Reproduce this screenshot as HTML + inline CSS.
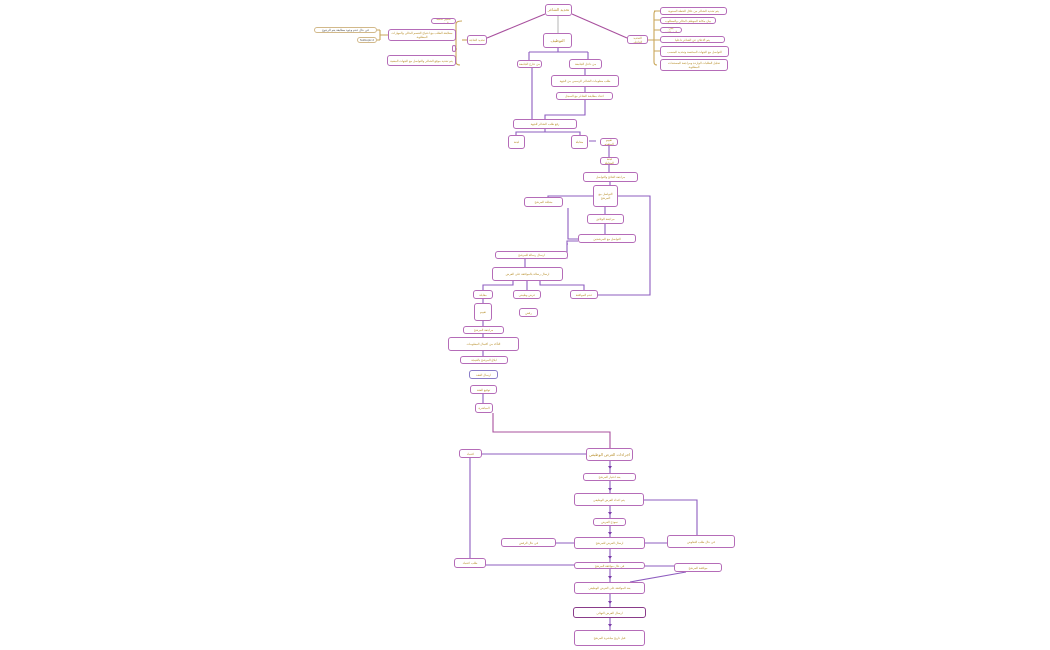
<!DOCTYPE html>
<html><head><meta charset="utf-8">
<style>
html,body{margin:0;padding:0;background:#fff;width:1050px;height:650px;overflow:hidden}
.b{position:absolute;box-sizing:border-box;border:1.4px solid #b56cb8;border-radius:3px;background:#fff;color:#b8902e;font-family:"Liberation Sans","Noto Sans CJK SC",sans-serif;font-size:3px;line-height:4px;text-align:center;display:flex;align-items:center;justify-content:center;overflow:hidden;direction:rtl;padding:0 1px}
.big{font-size:4px;border-width:1.6px;white-space:nowrap}
.tan{border-color:#d2b98a;color:#555}
.blue{border-color:#8a7cc8}
.dark{border-color:#8a3c8a}
svg{position:absolute;left:0;top:0}
</style></head><body>
<svg width="1050" height="650" fill="none" stroke="#8e5cbf" stroke-width="1.1">
<line x1="558" y1="16" x2="558" y2="33" stroke="#bbb"/>
<line x1="545" y1="14" x2="487" y2="38" stroke="#a8509e"/>
<line x1="572" y1="14" x2="627" y2="38" stroke="#a8509e"/>
<path d="M467 40 H462" stroke="#c9a65a"/>
<path d="M462 21 Q456 21 456 24 V62 Q456 65 460 65 M456 35 H452 M456 49 H457" stroke="#c9a65a"/>
<path d="M388 35 H380 M380 30 V40 M380 30 H377 M380 40 H377" stroke="#c9a65a"/>
<path d="M648 40 H654 M656 11 Q654 11 654 14 V62 Q654 65 657 65 M654 20 H660 M654 30 H660 M654 40 H660 M654 51 H660 M654 11 H660" stroke="#c9a65a"/>
<path d="M558 48 V52 M529 52 H588 M529 52 V60 M588 52 V59 M585 69 V75 M585 87 V92"/>
<path d="M532 68 V119 M585 100 V115 H545 V119"/>
<path d="M545 129 V132 H516 V135 M545 132 H580 V135 M589 141 H596"/>
<path d="M609 146 V157 M609 165 V172 M610 182 V185 M605 207 V214 M605 224 V234"/>
<path d="M593 196 H548 V197 M578 239 H568 V208 M568 244 H567 M578 241 H567 V258 H560"/>
<path d="M618 196 H650 V295 H598"/>
<path d="M525 259 V267 M513 281 V285 H483 V290 M527 281 V290 M540 281 V285 H584 V290"/>
<path d="M483 299 V303 M527 317 V308 M483 321 V326 M483 334 V337 M483 351 V356 M483 394 V403"/>
<path d="M493 413 V432 H610 V448" stroke="#a8509e"/>
<path d="M610 461 V473 M610 481 V493 M610 506 V518 M610 526 V537 M610 549 V562 M610 569 V582 M610 594 V607 M610 618 V630"/>
<path d="M586 454 H482 M470 458 V558"/>
<path d="M574 543 H556 M645 543 H667 M697 535 V500 H644"/>
<path d="M574 565 H486 M645 566 H674 M686 572 L630 582"/>
<g fill="#7a3ca8" stroke="none">
<path d="M608 466 l2 3 2-3z M608 488 l2 3 2-3z M608 512 l2 3 2-3z M608 532 l2 3 2-3z M608 556 l2 3 2-3z M608 576 l2 3 2-3z M608 601 l2 3 2-3z M608 624 l2 3 2-3z"/>
</g>
</svg>
<div class="b big" style="left:545px;top:4px;width:27px;height:12px">تحديد الشاغر</div>
<div class="b big" style="left:543px;top:33px;width:29px;height:15px">التوظيف</div>
<div class="b" style="left:467px;top:35px;width:20px;height:10px">تحديد الحاجة</div>
<div class="b" style="left:627px;top:35px;width:21px;height:9px">التحديد الداخلي</div>
<div class="b" style="left:431px;top:18px;width:25px;height:6px">تحليل قائمة المنصب</div>
<div class="b" style="left:388px;top:29px;width:68px;height:12px">مطابقة الطلب مع احتياج القسم الحالي والمهارات المطلوبة</div>
<div class="b" style="left:452px;top:45px;width:4px;height:7px"></div>
<div class="b" style="left:387px;top:55px;width:69px;height:11px">يتم تحديد موقع الشاغر والتواصل مع الجهات المعنية</div>
<div class="b tan" style="left:314px;top:27px;width:63px;height:6px">في حال عدم وجود مطابقة يتم الرجوع</div>
<div class="b tan" style="left:357px;top:37px;width:20px;height:6px">Subtopic 2</div>
<div class="b" style="left:660px;top:7px;width:67px;height:8px">يتم تحديد الشاغر من خلال الخطة السنوية</div>
<div class="b" style="left:660px;top:17px;width:56px;height:7px">بيان مكانة الموظف الحالي والمطلوب</div>
<div class="b" style="left:660px;top:27px;width:22px;height:6px">بيان المتطلبات</div>
<div class="b" style="left:660px;top:36px;width:65px;height:7px">يتم الاعلان عن الشاغر داخليا</div>
<div class="b" style="left:660px;top:46px;width:69px;height:11px">التواصل مع الجهات المختصة وتحديد المنصب</div>
<div class="b" style="left:660px;top:59px;width:68px;height:12px">تحليل الطلبات الواردة ومراجعة المستندات المطلوبة</div>
<div class="b" style="left:517px;top:60px;width:25px;height:8px">من خارج الجامعة</div>
<div class="b" style="left:569px;top:59px;width:33px;height:10px">من داخل الجامعة</div>
<div class="b" style="left:551px;top:75px;width:68px;height:12px">طلب معلومات الشاغر الرسمي من الجهة</div>
<div class="b" style="left:556px;top:92px;width:57px;height:8px">اعداد مطابقة الشاغر مع السجل</div>
<div class="b" style="left:513px;top:119px;width:64px;height:10px">رفع طلب الشاغر للجهة</div>
<div class="b" style="left:508px;top:135px;width:17px;height:14px">لجنة</div>
<div class="b" style="left:571px;top:135px;width:17px;height:14px">مقابلة</div>
<div class="b" style="left:600px;top:138px;width:18px;height:8px">تقييم المتقدم</div>
<div class="b" style="left:600px;top:157px;width:19px;height:8px">لجنة المقابلة</div>
<div class="b" style="left:583px;top:172px;width:55px;height:10px">مراجعة النتائج والتواصل</div>
<div class="b" style="left:593px;top:185px;width:25px;height:22px">التواصل مع المرشح</div>
<div class="b" style="left:524px;top:197px;width:39px;height:10px">مقابلة المرشح</div>
<div class="b" style="left:587px;top:214px;width:37px;height:10px">مراجعة الوثائق</div>
<div class="b" style="left:578px;top:234px;width:58px;height:9px">التواصل مع المرشحين</div>
<div class="b" style="left:495px;top:251px;width:73px;height:8px">ارسال رسالة للمرشح</div>
<div class="b" style="left:492px;top:267px;width:71px;height:14px">ارسال رسالة بالموافقة على العرض</div>
<div class="b" style="left:473px;top:290px;width:20px;height:9px">مقابلة</div>
<div class="b" style="left:513px;top:290px;width:28px;height:9px">عرض وظيفي</div>
<div class="b" style="left:570px;top:290px;width:28px;height:9px">عدم الموافقة</div>
<div class="b" style="left:474px;top:303px;width:18px;height:18px">تقييم</div>
<div class="b" style="left:519px;top:308px;width:19px;height:9px">رفض</div>
<div class="b" style="left:463px;top:326px;width:41px;height:8px">مراجعة المرشح</div>
<div class="b" style="left:448px;top:337px;width:71px;height:14px">التأكد من اكتمال المعلومات</div>
<div class="b" style="left:460px;top:356px;width:48px;height:8px">ابلاغ المرشح بالنتيجة</div>
<div class="b blue" style="left:469px;top:370px;width:29px;height:9px">ارسال العقد</div>
<div class="b" style="left:470px;top:385px;width:27px;height:9px">توقيع العقد</div>
<div class="b" style="left:475px;top:403px;width:18px;height:10px">المباشرة</div>
<div class="b big" style="left:586px;top:448px;width:47px;height:13px">اجراءات العرض الوظيفي</div>
<div class="b" style="left:459px;top:449px;width:23px;height:9px">اعتماد</div>
<div class="b" style="left:583px;top:473px;width:53px;height:8px">بعد اختيار المرشح</div>
<div class="b" style="left:574px;top:493px;width:70px;height:13px">يتم اعداد العرض الوظيفي</div>
<div class="b" style="left:593px;top:518px;width:33px;height:8px">نموذج العرض</div>
<div class="b" style="left:574px;top:537px;width:71px;height:12px">ارسال العرض للمرشح</div>
<div class="b" style="left:501px;top:538px;width:55px;height:9px">في حال الرفض</div>
<div class="b" style="left:667px;top:535px;width:68px;height:13px">في حال طلب التفاوض</div>
<div class="b" style="left:454px;top:558px;width:32px;height:10px">طلب اعتماد</div>
<div class="b" style="left:574px;top:562px;width:71px;height:7px">في حال موافقة المرشح</div>
<div class="b" style="left:674px;top:563px;width:48px;height:9px">موافقة المرشح</div>
<div class="b" style="left:574px;top:582px;width:71px;height:12px">بعد الموافقة على العرض الوظيفي</div>
<div class="b dark" style="left:573px;top:607px;width:73px;height:11px">ارسال العرض النهائي</div>
<div class="b" style="left:574px;top:630px;width:71px;height:16px">قبل تاريخ مباشرة المرشح</div>
</body></html>
